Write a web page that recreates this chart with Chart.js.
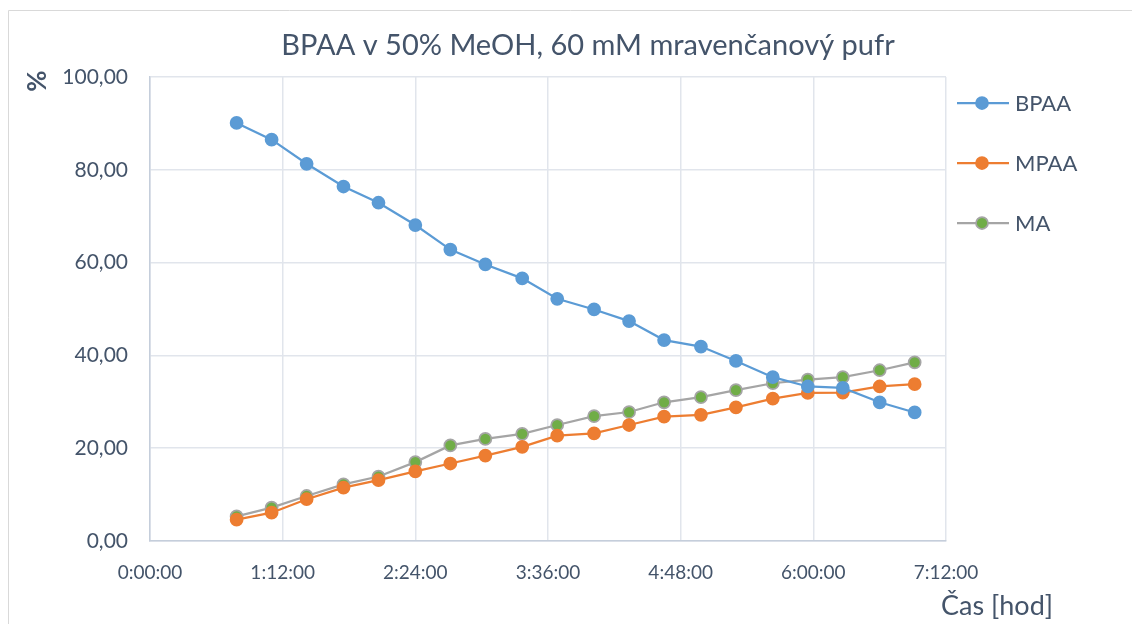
<!DOCTYPE html>
<html>
<head>
<meta charset="utf-8">
<script src="https://cdn.jsdelivr.net/npm/chart.js@4/dist/chart.umd.min.js"></script>
<style>
  html, body { margin: 0; padding: 0; background: #fff; }
  #wrap { width: 1132px; height: 624px; }
</style>
</head>
<body>
<div id="wrap"><canvas id="chart" width="1132" height="624"></canvas></div>
<script>
// time of each sample, minutes
const timesMin = [47, 66, 85, 105, 124, 144, 163, 182, 202, 221, 241, 260, 279, 299, 318, 338, 357, 376, 396, 415];
const bpaa = [90.1, 86.5, 81.3, 76.4, 72.9, 68.1, 62.8, 59.6, 56.6, 52.2, 49.9, 47.4, 43.3, 41.9, 38.8, 35.3, 33.3, 33.0, 29.9, 27.7];
const mpaa = [4.6, 6.1, 9.0, 11.5, 13.1, 15.0, 16.7, 18.4, 20.3, 22.7, 23.2, 25.0, 26.8, 27.2, 28.8, 30.7, 31.9, 32.0, 33.3, 33.8];
const ma = [5.3, 7.2, 9.7, 12.2, 13.9, 17.0, 20.6, 22.0, 23.1, 25.0, 26.9, 27.8, 29.9, 31.0, 32.5, 34.0, 34.8, 35.3, 36.8, 38.5];
const seriesNames = ['BPAA', 'MPAA', 'MA'];
const xTicks = [0, 1.2, 2.4, 3.6, 4.8, 6.0, 7.2]; // hours
const yTicks = [0, 20, 40, 60, 80, 100];
const chartTitle = 'BPAA v 50% MeOH, 60 mM mravenčanový pufr';

const textColor = '#44546a';
const fontFamily = 'Lato, "Open Sans", sans-serif';

function toPoints(vals) {
    return vals.map((v, i) => ({ x: timesMin[i] / 60, y: v }));
}

function fmtTime(h) {
    const totalMin = Math.round(h * 60);
    const hh = Math.floor(totalMin / 60);
    const mm = totalMin % 60;
    return hh + ':' + String(mm).padStart(2, '0') + ':00';
}

// frame, titles and the line+marker legend
const decorPlugin = {
    id: 'decor',
    afterDraw(chart) {
        const ctx = chart.ctx;
        ctx.save();
        ctx.strokeStyle = '#d9d9d9';
        ctx.lineWidth = 1;
        ctx.beginPath();
        ctx.moveTo(8.5, 640);
        ctx.lineTo(8.5, 10.5);
        ctx.lineTo(1140, 10.5);
        ctx.stroke();

        ctx.fillStyle = textColor;
        ctx.font = 'bold 26px ' + fontFamily;
        ctx.textAlign = 'center';
        ctx.textBaseline = 'middle';
        ctx.translate(38, 81);
        ctx.rotate(-Math.PI / 2);
        ctx.fillText('%', 0, 0);
        ctx.restore();

        ctx.save();
        ctx.fillStyle = textColor;
        ctx.textAlign = 'center';
        ctx.textBaseline = 'middle';
        ctx.font = '29px ' + fontFamily;
        ctx.fillText(chartTitle, 588, 46);
        ctx.font = '27px ' + fontFamily;
        ctx.fillText('Čas [hod]', 997, 606);

        const rows = [103, 163, 223];
        chart.data.datasets.forEach((ds, i) => {
            const y = rows[i];
            ctx.strokeStyle = ds.borderColor;
            ctx.lineWidth = 2.25;
            ctx.beginPath();
            ctx.moveTo(957, y);
            ctx.lineTo(1009, y);
            ctx.stroke();
            ctx.beginPath();
            ctx.arc(982, y, 6, 0, Math.PI * 2);
            ctx.fillStyle = ds.pointBackgroundColor;
            ctx.fill();
            ctx.lineWidth = ds.pointBorderWidth;
            ctx.strokeStyle = ds.pointBorderColor;
            ctx.stroke();
            ctx.fillStyle = textColor;
            ctx.font = '22px ' + fontFamily;
            ctx.textAlign = 'left';
            ctx.fillText(ds.label, 1015, y + 1);
        });
        ctx.restore();
    }
};

function makeSet(label, vals, line, fill, border) {
    return {
        label,
        data: toPoints(vals),
        showLine: true,
        borderColor: line,
        borderWidth: 2.25,
        pointRadius: 6,
        pointHoverRadius: 6,
        pointBackgroundColor: fill,
        pointBorderColor: border,
        pointBorderWidth: 1.75,
        tension: 0
    };
}

new Chart(document.getElementById('chart'), {
    type: 'scatter',
    data: {
        datasets: [
            makeSet(seriesNames[0], bpaa, '#5b9bd5', '#5b9bd5', '#5b9bd5'),
            makeSet(seriesNames[1], mpaa, '#ed7d31', '#ed7d31', '#ed7d31'),
            makeSet(seriesNames[2], ma, '#a5a5a5', '#70ad47', '#a5a5a5')
        ]
    },
    options: {
        responsive: false,
        animation: false,
        layout: { padding: { left: 0, top: 77, right: 186, bottom: 0 } },
        plugins: {
            legend: { display: false },
            tooltip: { enabled: false },
            title: { display: false }
        },
        scales: {
            x: {
                type: 'linear',
                min: 0,
                max: 7.2,
                afterBuildTicks: axis => { axis.ticks = xTicks.map(v => ({ value: v })); },
                afterFit: axis => { axis.height = 83; },
                ticks: {
                    callback: v => fmtTime(v),
                    color: textColor,
                    font: { family: fontFamily, size: 19 },
                    padding: 20,
                    maxRotation: 0
                },
                grid: { color: '#e1e5ec', lineWidth: 1.5, drawTicks: false },
                border: { color: '#c5cedb', width: 1.5 }
            },
            y: {
                min: 0,
                max: 100,
                afterBuildTicks: axis => { axis.ticks = yTicks.map(v => ({ value: v })); },
                afterFit: axis => { axis.width = 150; },
                ticks: {
                    callback: v => v.toFixed(2).replace('.', ','),
                    color: textColor,
                    font: { family: fontFamily, size: 21 },
                    padding: 22
                },
                grid: { color: '#e1e5ec', lineWidth: 1.5, drawTicks: false },
                border: { color: '#c5cedb', width: 1.5 }
            }
        }
    },
    plugins: [decorPlugin]
});
</script>
</body>
</html>
